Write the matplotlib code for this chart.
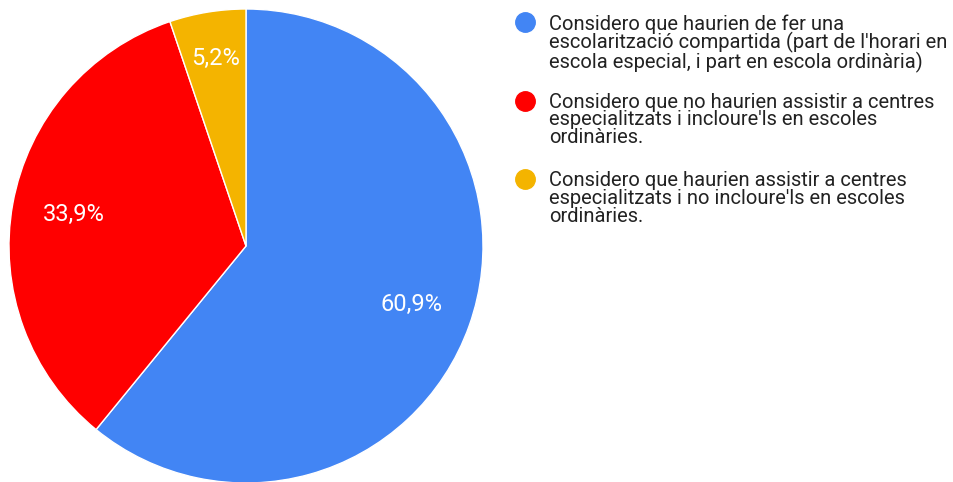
import matplotlib.pyplot as plt
import numpy as np

labels = [
    "Considero que haurien de fer una\nescolarització compartida (part de l'horari en\nescola especial, i part en escola ordinària)",
    "Considero que no haurien assistir a centres\nespecialitzats i incloure'ls en escoles\nordinàries.",
    "Considero que haurien assistir a centres\nespecialitzats i no incloure'ls en escoles\nordinàries.",
]
values = [60.9, 33.9, 5.2]
colors = ['#4285F4', '#FF0000', '#F4B400']

plt.rcParams['font.family'] = ['Roboto', 'DejaVu Sans']

W, H = 954, 482
fig = plt.figure(figsize=(W / 100, H / 100), dpi=100)

# pie axes placed in pixels: center (246, 246), radius 237
cx, cy, r = 246, 246, 237
ax = fig.add_axes([(cx - r) / W, (H - cy - r) / H, 2 * r / W, 2 * r / H])
wedges, texts, autotexts = ax.pie(
    values, colors=colors, startangle=90, counterclock=False,
    autopct=lambda p: f'{p:.1f}%'.replace('.', ','), pctdistance=0.74,
    wedgeprops=dict(edgecolor='white', linewidth=1),
    textprops=dict(color='white', fontsize=17))
ax.set_aspect('equal')
ax.set_xlim(-1, 1)
ax.set_ylim(-1, 1)

# small slice label sits a bit further out
w = wedges[2]
ang = np.deg2rad((w.theta1 + w.theta2) / 2)
autotexts[2].set_position((0.8 * np.cos(ang), 0.8 * np.sin(ang)))

# legend drawn by hand so the dot lines up with the first text line
y0, step = 29, 78.5
for i, (lab, col) in enumerate(zip(labels, colors)):
    y = y0 + i * step
    fig.lines.append(plt.Line2D([525 / W], [1 - (y - 7) / H], marker='o', markersize=14,
                                color=col, transform=fig.transFigure, linestyle=''))
    fig.text(549 / W, 1 - (y - 15) / H, lab, va='top', ha='left', fontsize=14.5,
             color='#222222', linespacing=0.92)

fig.savefig('out.png', dpi=100)
